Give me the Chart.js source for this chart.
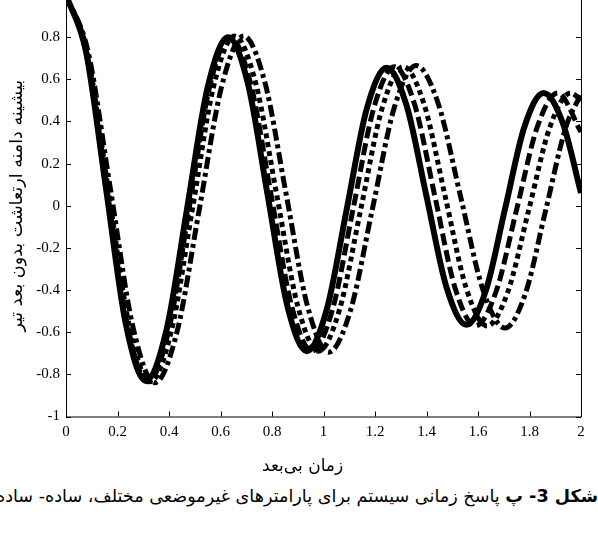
<!DOCTYPE html>
<html>
<head>
<meta charset="utf-8">
<script src="https://cdn.jsdelivr.net/npm/chart.js@4"></script>
<style>
  html, body { margin: 0; padding: 0; background: #fff; overflow: hidden; }
  body { width: 598px; height: 536px; position: relative; }
  #wrap { position: absolute; left: 0; top: -20px; width: 598px; height: 500px; }
  #xtitle {
    position: absolute; left: 262px; top: 455px; white-space: nowrap;
    font-family: "DejaVu Sans", sans-serif; font-size: 17px; color: #000;
  }
  #caption {
    position: absolute; right: 0; top: 486px; white-space: nowrap;
    font-family: "DejaVu Sans", sans-serif; font-size: 17.6px; color: #000;
  }
</style>
</head>
<body>
<div id="wrap"><canvas id="chart"></canvas></div>
<div id="xtitle"></div>
<div id="caption" dir="rtl"><b id="capBold"></b> <span id="capText"></span></div>
<script>
// time points and amplitudes (peaks, troughs, crossings)
const solidT = [0, 0.0775, 0.155, 0.2325, 0.31, 0.39, 0.47, 0.55, 0.63, 0.706, 0.7825, 0.859, 0.935, 1.0125, 1.09, 1.1675, 1.245, 1.3225, 1.40, 1.4775, 1.555, 1.63, 1.705, 1.78, 1.855, 1.93, 2.0];
const solidV = [1.0, 0.732, 0.085, -0.562, -0.83, -0.591, -0.015, 0.561, 0.80, 0.582, 0.055, -0.472, -0.69, -0.493, -0.018, 0.458, 0.655, 0.476, 0.045, -0.386, -0.565, -0.404, -0.015, 0.374, 0.535, 0.39, 0.06];

const dashT = [0, 0.0795, 0.159, 0.2385, 0.318, 0.398, 0.4775, 0.557, 0.637, 0.7165, 0.796, 0.8755, 0.955, 1.035, 1.115, 1.195, 1.275, 1.354, 1.4325, 1.511, 1.59, 1.67, 1.75, 1.83, 1.91, 2.0];
const dashV = [1.0, 0.731, 0.083, -0.566, -0.835, -0.596, -0.018, 0.56, 0.80, 0.582, 0.055, -0.472, -0.69, -0.492, -0.015, 0.462, 0.66, 0.48, 0.045, -0.39, -0.57, -0.408, -0.018, 0.373, 0.535, 0.35];

const dotT = [0, 0.0818, 0.1635, 0.245, 0.327, 0.409, 0.491, 0.573, 0.655, 0.736, 0.8175, 0.899, 0.98, 1.0625, 1.145, 1.2275, 1.31, 1.391, 1.4725, 1.554, 1.635, 1.716, 1.7975, 1.879, 1.96, 2.0];
const dotV = [1.0, 0.731, 0.083, -0.566, -0.835, -0.595, -0.015, 0.565, 0.805, 0.586, 0.058, -0.471, -0.69, -0.492, -0.015, 0.462, 0.66, 0.48, 0.045, -0.39, -0.57, -0.408, -0.018, 0.373, 0.535, 0.50];

const dashDotT = [0, 0.086, 0.1725, 0.259, 0.345, 0.431, 0.5175, 0.604, 0.69, 0.7725, 0.855, 0.9375, 1.02, 1.105, 1.19, 1.275, 1.36, 1.446, 1.5325, 1.619, 1.705, 1.784, 1.8625, 1.941, 2.0];
const dashDotV = [1.0, 0.73, 0.08, -0.57, -0.84, -0.599, -0.018, 0.564, 0.805, 0.585, 0.055, -0.475, -0.695, -0.496, -0.015, 0.466, 0.665, 0.483, 0.043, -0.398, -0.58, -0.417, -0.023, 0.372, 0.53];

const xTicks = [0, 0.2, 0.4, 0.6, 0.8, 1, 1.2, 1.4, 1.6, 1.8, 2];
const xTickLabels = ['0', '0.2', '0.4', '0.6', '0.8', '1', '1.2', '1.4', '1.6', '1.8', '2'];
const yTicks = [-1, -0.8, -0.6, -0.4, -0.2, 0, 0.2, 0.4, 0.6, 0.8, 1];
const yTickLabels = ['-1', '-0.8', '-0.6', '-0.4', '-0.2', '0', '0.2', '0.4', '0.6', '0.8', ''];

const xTitle = 'زمان بی‌بعد';
const yTitle = 'بیشینه دامنه ارتعاشت بدون بعد تیر';
const captionBold = 'شکل 3- پ';
const captionText = 'پاسخ زمانی سیستم برای پارامترهای غیرموضعی مختلف، ساده- ساده';

document.getElementById('xtitle').textContent = xTitle;
document.getElementById('capBold').textContent = captionBold;
document.getElementById('capText').textContent = captionText;

function pts(ts, vs) { return ts.map((t, i) => ({ x: t, y: vs[i] })); }

function line(data, dash, width) {
  return {
    data: data,
    borderColor: '#000',
    borderWidth: width,
    borderDash: dash,
    borderCapStyle: 'butt',
    pointRadius: 0,
    fill: false,
    cubicInterpolationMode: 'monotone'
  };
}

// MATLAB-like box with inward tick marks
const boxTicks = {
  id: 'boxTicks',
  afterDraw(chart) {
    const { ctx, chartArea: a, scales: { x, y } } = chart;
    ctx.save();
    ctx.strokeStyle = '#000';
    ctx.lineWidth = 1;
    ctx.beginPath();
    ctx.rect(a.left + 0.5, a.top + 0.5, a.right - a.left, a.bottom - a.top);
    xTicks.forEach(v => {
      const px = Math.round(x.getPixelForValue(v)) + 0.5;
      ctx.moveTo(px, a.bottom); ctx.lineTo(px, a.bottom - 5);
      ctx.moveTo(px, a.top); ctx.lineTo(px, a.top + 5);
    });
    yTicks.forEach(v => {
      const py = Math.round(y.getPixelForValue(v)) + 0.5;
      ctx.moveTo(a.left, py); ctx.lineTo(a.left + 5, py);
      ctx.moveTo(a.right, py); ctx.lineTo(a.right - 5, py);
    });
    ctx.stroke();
    ctx.restore();
  }
};

new Chart(document.getElementById('chart'), {
  type: 'line',
  data: {
    datasets: [
      line(pts(solidT, solidV), [], 6),
      line(pts(dashT, dashV), [12, 5], 5),
      line(pts(dotT, dotV), [5, 4], 5),
      line(pts(dashDotT, dashDotV), [12, 4, 4, 4], 5)
    ]
  },
  options: {
    responsive: true,
    maintainAspectRatio: false,
    devicePixelRatio: 1,
    animation: false,
    layout: { padding: { left: 0, right: 17, top: 13.5, bottom: 0 } },
    plugins: { legend: { display: false }, tooltip: { enabled: false } },
    scales: {
      x: {
        type: 'linear',
        min: 0, max: 2,
        afterBuildTicks: s => { s.ticks = xTicks.map(v => ({ value: v })); },
        afterFit: s => { s.height = 63.5; },
        grid: { display: false, drawTicks: false },
        border: { display: false },
        ticks: {
          padding: 7, color: '#000', maxRotation: 0,
          font: { family: 'Liberation Serif', size: 15 },
          callback: (v, i) => xTickLabels[i]
        }
      },
      y: {
        type: 'linear',
        min: -1, max: 1,
        afterBuildTicks: s => { s.ticks = yTicks.map(v => ({ value: v })); },
        afterFit: s => { s.width = 66; },
        grid: { display: false, drawTicks: false },
        border: { display: false },
        ticks: {
          padding: 6, color: '#000',
          font: { family: 'Liberation Serif', size: 15 },
          callback: (v, i) => yTickLabels[i]
        },
        title: {
          display: true, text: yTitle, color: '#000',
          font: { family: 'DejaVu Sans', size: 17.5 },
          padding: { top: 7, bottom: 0 }
        }
      }
    }
  },
  plugins: [boxTicks]
});
</script>
</body>
</html>
